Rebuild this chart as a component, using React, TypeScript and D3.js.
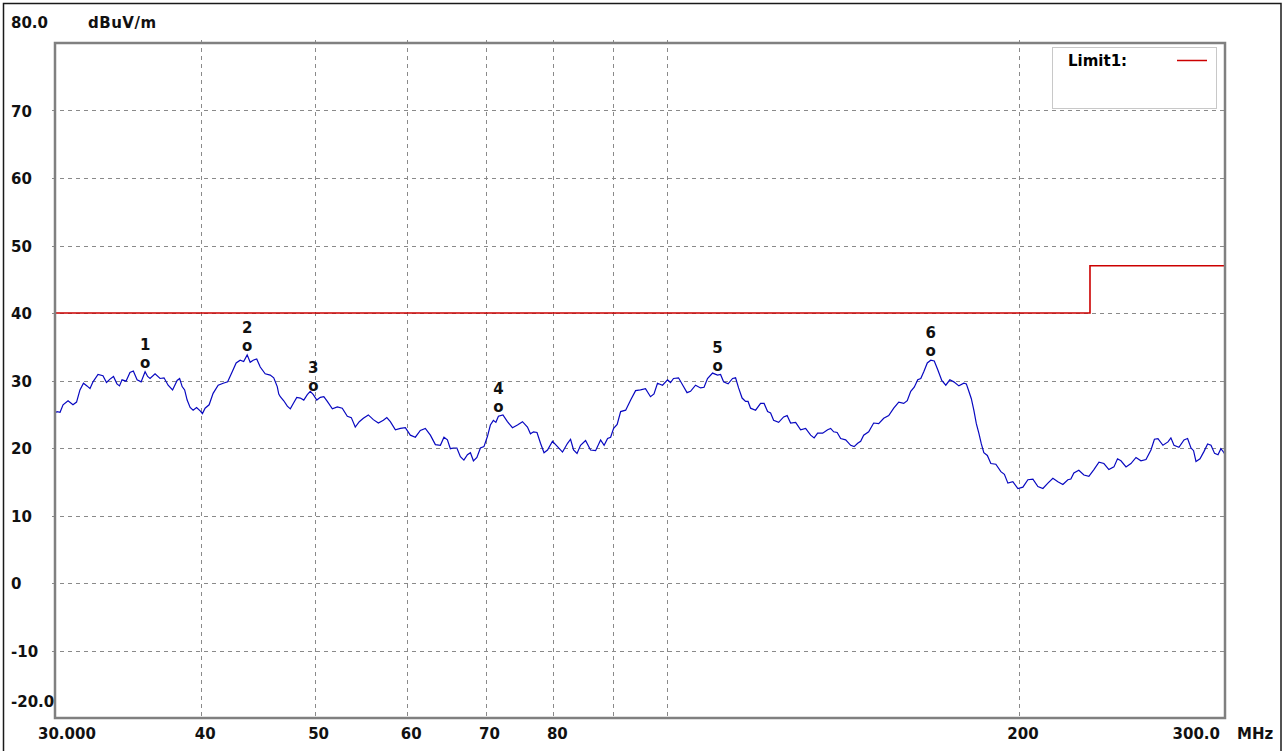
import * as d3 from 'd3'
import { useEffect, useRef } from 'react'

const traceMHz = [
  30.0, 30.12, 30.3, 30.48, 30.78, 31.08, 31.3, 31.51, 31.73, 31.95, 32.14, 32.33, 32.65, 32.97, 33.2,
  33.43, 33.66, 33.89, 34.06, 34.23, 34.5, 34.77, 35.0, 35.26, 35.54, 35.82, 36.0, 36.17, 36.53, 36.89,
  37.18, 37.48, 37.81, 38.15, 38.34, 38.53, 38.72, 38.91, 39.14, 39.37, 39.64, 39.92, 40.1, 40.31, 40.63,
  40.95, 41.36, 41.77, 42.14, 42.52, 42.85, 43.19, 43.49, 43.79, 44.05, 44.31, 44.62, 44.93, 45.37, 45.82,
  46.14, 46.46, 46.6, 46.74, 47.06, 47.39, 47.67, 47.95, 48.28, 48.62, 48.95, 49.29, 49.58, 49.88, 50.22,
  50.57, 50.92, 51.27, 51.78, 52.29, 52.8, 53.33, 53.75, 54.17, 54.6, 55.04, 55.58, 56.13, 56.69, 57.25,
  57.64, 58.04, 58.62, 59.2, 59.78, 60.37, 60.97, 61.57, 62.18, 62.8, 63.42, 64.05, 64.5, 64.94, 65.32,
  65.71, 66.16, 66.62, 67.08, 67.55, 67.95, 68.35, 68.82, 69.3, 69.78, 70.26, 70.67, 71.09, 71.44, 71.8,
  72.44, 73.08, 73.81, 74.54, 75.28, 76.02, 76.47, 76.93, 77.46, 78.0, 78.54, 79.08, 79.86, 80.65, 81.45,
  82.26, 82.75, 83.24, 83.81, 84.39, 85.23, 86.07, 86.93, 87.79, 88.4, 89.01, 89.54, 90.07, 90.7, 91.32,
  92.23, 93.14, 94.05, 94.96, 95.9, 96.85, 97.52, 98.19, 99.17, 100.15, 100.74, 101.34, 102.34, 103.35, 104.07,
  104.79, 105.83, 106.87, 107.61, 108.35, 109.43, 110.51, 111.17, 111.83, 112.83, 113.83, 114.5, 115.18, 115.98, 116.78,
  117.35, 117.93, 119.1, 120.28, 121.11, 121.95, 122.67, 123.4, 124.63, 125.86, 126.73, 127.6, 128.87, 130.14, 131.43,
  132.73, 133.65, 134.57, 135.91, 137.25, 138.06, 138.88, 139.84, 140.81, 142.2, 143.61, 144.6, 145.6, 146.46, 147.33,
  148.79, 150.26, 151.75, 153.26, 154.78, 156.31, 157.86, 159.42, 160.52, 161.63, 162.75, 163.88, 164.85, 165.83, 166.98,
  168.13, 169.29, 170.46, 171.81, 173.17, 174.55, 175.93, 177.68, 179.43, 180.32, 181.21, 182.1, 183.0, 183.9, 184.81,
  185.72, 186.64, 187.93, 189.23, 191.1, 193.0, 194.34, 195.68, 197.6, 199.57, 201.55, 203.54, 205.56, 207.59, 209.65,
  211.72, 213.8, 215.91, 218.05, 220.2, 221.5, 222.82, 225.0, 227.26, 229.5, 231.78, 234.1, 236.39, 238.7, 241.1,
  242.8, 244.44, 246.9, 249.3, 251.8, 254.26, 256.8, 259.32, 261.1, 262.92, 265.5, 268.15, 269.7, 271.34, 274.0,
  276.74, 278.7, 280.58, 282.0, 283.35, 285.6, 287.88, 289.9, 291.84, 293.9, 295.89, 297.6, 299.41, 300.0,
]
const traceDb = [
  25.2, 25.4, 25.3, 26.4, 27.0, 26.4, 26.8, 28.6, 29.6, 29.2, 28.8, 29.8, 30.9, 30.7, 29.7,
  30.2, 30.6, 29.5, 29.2, 30.1, 29.9, 31.2, 31.4, 30.1, 29.8, 31.3, 30.6, 30.3, 31.0, 30.3,
  30.4, 29.3, 28.6, 30.0, 30.3, 29.1, 28.6, 27.1, 26.0, 25.6, 26.0, 25.5, 25.1, 25.9, 26.4,
  28.1, 29.3, 29.6, 29.8, 31.3, 32.6, 33.0, 32.8, 33.8, 32.7, 33.0, 33.2, 32.0, 31.0, 30.8,
  30.4, 29.1, 28.0, 27.6, 27.0, 26.2, 25.8, 26.6, 27.5, 27.4, 27.1, 27.9, 28.4, 27.9, 27.1,
  27.5, 27.6, 26.9, 25.8, 26.1, 25.9, 24.7, 24.5, 23.1, 23.9, 24.4, 24.9, 24.2, 23.7, 24.1,
  24.5, 23.9, 22.7, 22.9, 23.0, 21.9, 21.6, 22.6, 22.9, 21.9, 20.5, 20.4, 21.6, 21.2, 19.9,
  20.0, 20.0, 18.7, 18.2, 19.0, 19.3, 18.1, 18.6, 20.0, 20.2, 21.7, 23.4, 24.1, 23.8, 24.7,
  24.9, 23.9, 23.0, 23.4, 23.9, 23.1, 22.1, 22.4, 22.3, 20.7, 19.3, 19.7, 21.0, 20.2, 19.4,
  20.7, 21.3, 19.7, 19.2, 20.4, 21.1, 19.7, 19.6, 21.2, 20.4, 21.4, 21.6, 22.9, 23.5, 25.4,
  25.6, 27.1, 28.5, 28.6, 28.8, 27.6, 28.0, 29.6, 29.3, 30.1, 29.7, 30.3, 30.4, 29.1, 28.2,
  28.4, 29.3, 28.9, 29.0, 30.3, 31.1, 30.8, 30.9, 29.8, 29.5, 30.3, 30.4, 28.9, 27.4, 26.9,
  26.9, 25.9, 25.6, 26.6, 26.6, 25.4, 25.2, 24.1, 23.8, 24.6, 24.8, 23.7, 23.8, 22.7, 22.9,
  21.9, 21.5, 22.2, 22.2, 22.7, 22.9, 22.4, 22.3, 21.4, 21.2, 20.4, 20.2, 20.7, 21.0, 21.9,
  22.4, 23.7, 23.6, 24.4, 24.8, 25.9, 26.8, 26.6, 27.0, 28.4, 29.0, 30.1, 30.3, 31.3, 32.6,
  33.0, 32.9, 31.6, 30.0, 29.3, 30.1, 29.8, 29.2, 29.6, 29.5, 28.4, 27.3, 25.6, 23.6, 22.2,
  20.6, 19.3, 18.9, 17.7, 17.6, 16.5, 16.1, 14.8, 15.0, 14.0, 14.2, 15.3, 15.4, 14.3, 14.0,
  14.8, 15.5, 15.0, 14.6, 15.3, 15.4, 16.3, 16.7, 16.0, 15.8, 16.8, 17.9, 17.7, 16.8, 17.2,
  18.4, 18.1, 17.2, 17.7, 18.6, 18.1, 18.3, 19.7, 21.3, 21.4, 20.4, 20.9, 21.5, 20.4, 20.1,
  21.2, 21.4, 20.0, 19.6, 18.0, 18.4, 19.5, 20.6, 20.4, 19.2, 19.0, 19.9, 19.3, 19.0,
]

const limitMHz = [30, 230, 300]
const limitDb = [40, 47, 47]

const markerMHz = [35.82, 43.79, 49.88, 71.8, 110.51, 168.13]
const markerDb = [31.3, 33.8, 27.9, 24.7, 30.8, 33.0]
const markerLabels = ['1', '2', '3', '4', '5', '6']

const yTicks = [80, 70, 60, 50, 40, 30, 20, 10, 0, -10, -20]
const yTickLabels = ['80.0', '70', '60', '50', '40', '30', '20', '10', '0', '-10', '-20.0']
const yGrid = [70, 60, 50, 40, 30, 20, 10, 0, -10]

const xTicks = [30, 40, 50, 60, 70, 80, 200, 300]
const xTickLabels = ['30.000', '40', '50', '60', '70', '80', '200', '300.0']
const xGrid = [40, 50, 60, 70, 80, 90, 100, 200]

const FONT = '"DejaVu Sans", sans-serif'

export default function App() {
    const svgRef = useRef<SVGSVGElement>(null)

    useEffect(() => {
        makeChart(svgRef)
    }, [])

    function makeChart(svgRef: React.RefObject<SVGSVGElement>) {
        const width = 1287
        const height = 751
        const left = 55
        const right = 1225
        const top = 43
        const bottom = 718

        const svg = d3.select(svgRef.current).attr('width', width).attr('height', height)
        svg.selectAll('*').remove()

        const xScale = d3.scaleLog().domain([30, 300]).range([left, right])
        const yScale = d3.scaleLinear().domain([-20, 80]).range([bottom, top])

        svg.append('rect').attr('width', width).attr('height', height).attr('fill', '#fff')
        svg.append('rect')
            .attr('x', 3.5).attr('y', 3.5).attr('width', 1277.5).attr('height', 800)
            .attr('fill', 'none').attr('stroke', '#1a1a1a').attr('stroke-width', 1.5)

        // grid
        const grid = svg.append('g').attr('stroke', '#8a8a8a').attr('stroke-width', 1).attr('stroke-dasharray', '4,4')
        grid.selectAll('line.h').data(yGrid).enter().append('line')
            .attr('x1', left - 3).attr('x2', right)
            .attr('y1', d => Math.round(yScale(d)) + 0.5).attr('y2', d => Math.round(yScale(d)) + 0.5)
        grid.selectAll('line.v').data(xGrid).enter().append('line')
            .attr('x1', d => Math.round(xScale(d)) + 0.5).attr('x2', d => Math.round(xScale(d)) + 0.5)
            .attr('y1', top - 3).attr('y2', bottom)

        // legend box
        svg.append('rect')
            .attr('x', 1052.5).attr('y', 47.5).attr('width', 164).attr('height', 61)
            .attr('fill', '#fff').attr('stroke', '#c8c8c8').attr('stroke-width', 1)
        svg.append('text').attr('x', 1068).attr('y', 66).text('Limit1:')
            .attr('font-family', FONT).attr('font-weight', 'bold').attr('font-size', 15)
        svg.append('line').attr('x1', 1177).attr('x2', 1207).attr('y1', 60.5).attr('y2', 60.5)
            .attr('stroke', '#cc0000').attr('stroke-width', 1.5)

        // limit line
        const limitLine = d3.line<number>()
            .x((_, i) => xScale(limitMHz[i]))
            .y(d => yScale(d))
            .curve(d3.curveStepAfter)
        svg.append('path').attr('d', limitLine(limitDb))
            .attr('fill', 'none').attr('stroke', '#cc0000').attr('stroke-width', 1.6)

        // trace
        const traceLine = d3.line<number>()
            .x((_, i) => xScale(traceMHz[i]))
            .y(d => yScale(d))
        svg.append('path').attr('d', traceLine(traceDb))
            .attr('fill', 'none').attr('stroke', '#0808c0').attr('stroke-width', 1.2)

        // markers
        const markers = svg.append('g').attr('font-family', FONT).attr('font-weight', 'bold')
            .attr('font-size', 15).attr('text-anchor', 'middle').attr('fill', '#111')
        markers.selectAll('text.o').data(markerDb).enter().append('text')
            .attr('x', (_, i) => xScale(markerMHz[i]))
            .attr('y', d => yScale(d) - 4)
            .text('o')
        markers.selectAll('text.n').data(markerDb).enter().append('text')
            .attr('x', (_, i) => xScale(markerMHz[i]))
            .attr('y', d => yScale(d) - 22)
            .text((_, i) => markerLabels[i])

        // plot frame
        svg.append('rect')
            .attr('x', left).attr('y', top).attr('width', right - left).attr('height', bottom - top)
            .attr('fill', 'none').attr('stroke', '#808080').attr('stroke-width', 2.5)

        // axis labels
        const labels = svg.append('g').attr('font-family', FONT).attr('font-weight', 'bold')
            .attr('font-size', 15).attr('fill', '#111')
        labels.selectAll('text.y').data(yTicks).enter().append('text')
            .attr('x', 11)
            .attr('y', d => d === 80 ? 28 : d === -20 ? yScale(d) - 11 : yScale(d) + 6)
            .text((_, i) => yTickLabels[i])
        labels.append('text').attr('x', 88).attr('y', 28).text('dBuV/m').attr('letter-spacing', 0.5)

        labels.selectAll('text.x').data(xTicks).enter().append('text')
            .attr('x', d => d === 30 ? xScale(d) - 17 : d === 300 ? xScale(d) - 5 : xScale(d) + 4)
            .attr('y', 739)
            .attr('text-anchor', d => d === 30 ? 'start' : d === 300 ? 'end' : 'middle')
            .text((_, i) => xTickLabels[i])
        labels.append('text').attr('x', 1237).attr('y', 739).text('MHz')
    }

    return (
        <svg ref={svgRef} style={{ position: 'absolute', left: 0, top: 0 }}></svg>
    )
}
